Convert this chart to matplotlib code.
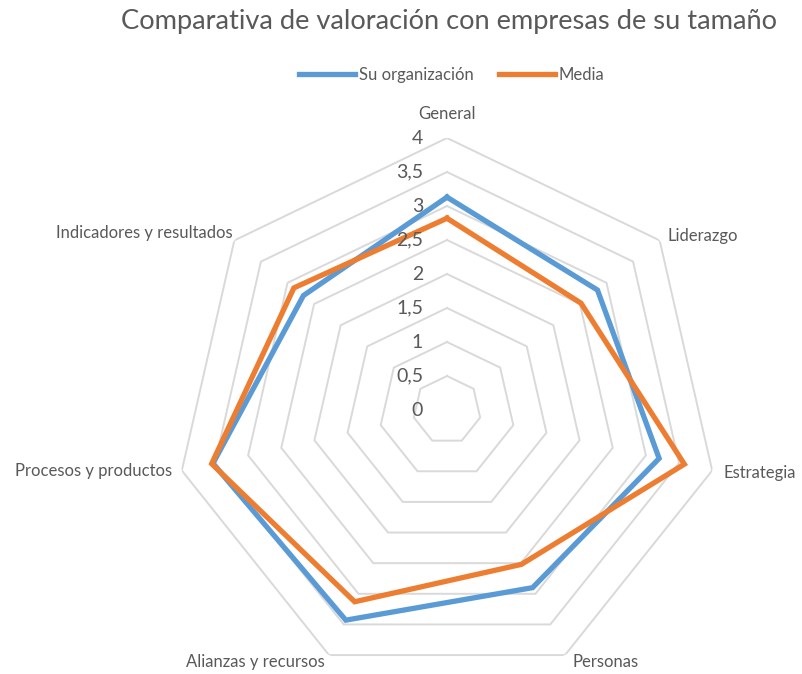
import numpy as np
import matplotlib
matplotlib.use("Agg")
import matplotlib.pyplot as plt

categories = ["General", "Liderazgo", "Estrategia", "Personas",
              "Alianzas y recursos", "Procesos y productos", "Indicadores y resultados"]
su_org = [3.13, 2.83, 3.2, 2.9, 3.43, 3.53, 2.7]
media = [2.82, 2.52, 3.58, 2.52, 3.13, 3.55, 2.88]
ring_values = [0.5, 1, 1.5, 2, 2.5, 3, 3.5, 4]
tick_values = [0, 0.5, 1, 1.5, 2, 2.5, 3, 3.5, 4]
tick_labels = ["0", "0,5", "1", "1,5", "2", "2,5", "3", "3,5", "4"]

plt.rcParams['font.family'] = ['Lato', 'DejaVu Sans']
TXT = "#595959"
GRID = "#d9d9d9"
BLUE = "#5b9bd5"
ORANGE = "#ed7d31"

W, H = 802, 674
fig = plt.figure(figsize=(W / 100, H / 100), dpi=100)
cx, cy, R = 447, 410, 272
ax = fig.add_axes([(cx - R) / W, (H - cy - R) / H, 2 * R / W, 2 * R / H], projection='polar')
ax.set_theta_zero_location('N')
ax.set_theta_direction(-1)
ax.set_ylim(0, 4)
ax.grid(False)
ax.set_xticks([])
ax.set_yticks([])
ax.spines['polar'].set_visible(False)
ax.patch.set_alpha(0)

n = len(categories)
theta = np.arange(n) * 2 * np.pi / n
theta_c = np.append(theta, theta[0])

for v in ring_values:
    ax.plot(theta_c, [v] * (n + 1), color=GRID, lw=1.4, zorder=1, solid_joinstyle='miter')

l1, = ax.plot(theta_c, su_org + su_org[:1], color=BLUE, lw=3.8, zorder=3,
              solid_joinstyle='miter', label="Su organización")
l2, = ax.plot(theta_c, media + media[:1], color=ORANGE, lw=3.8, zorder=4,
              solid_joinstyle='miter', label="Media")

for v, lab in zip(tick_values, tick_labels):
    ax.annotate(lab, xy=(0, v), xytext=(-24, 0), textcoords='offset pixels',
                ha='right', va='center', fontsize=14, color=TXT, zorder=5)

offsets = [(0, 24, 'center'), (8, 4, 'left'), (11, -2, 'left'), (7, -7, 'left'),
           (-4, -7, 'right'), (-10, 0, 'right'), (-2, 7, 'right')]
for t, cat, (dx, dy, ha) in zip(theta, categories, offsets):
    ax.annotate(cat, xy=(t, 4), xytext=(dx, dy), textcoords='offset pixels',
                ha=ha, va='center', fontsize=12, color=TXT, annotation_clip=False)

fig.text(449 / W, 1 - 22 / H, "Comparativa de valoración con empresas de su tamaño",
         ha='center', va='center', fontsize=19.6, color=TXT)

fig.legend(handles=[l1, l2], loc='center', bbox_to_anchor=(452 / W, 1 - 75 / H),
           ncol=2, frameon=False, fontsize=12, labelcolor=TXT,
           handlelength=3.35, handletextpad=0.25, columnspacing=1.5)

fig.savefig("out.png", dpi=100)
